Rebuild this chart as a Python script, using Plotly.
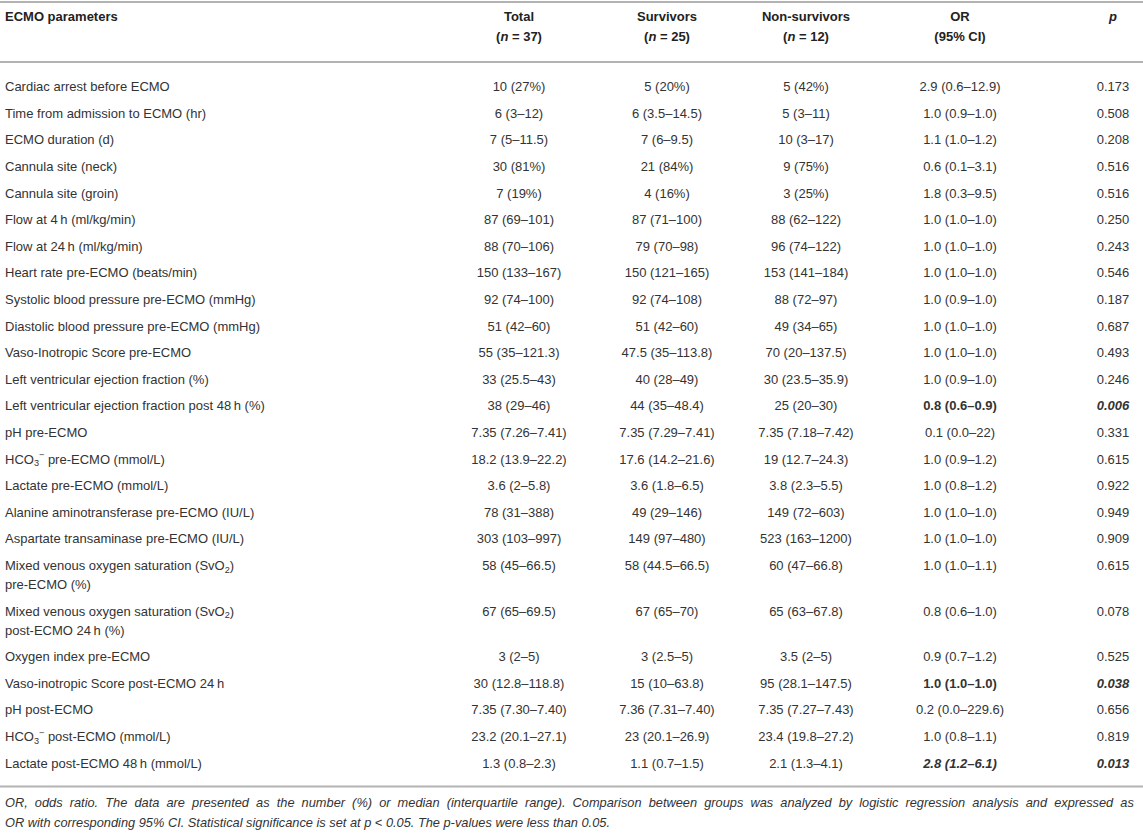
import plotly.graph_objects as go

# ---------------- data ----------------
header_labels = ["ECMO parameters", "Total", "Survivors", "Non-survivors", "OR", "p"]
header_sub = ["", "(<i>n</i> = 37)", "(<i>n</i> = 25)", "(<i>n</i> = 12)", "(95% CI)", ""]

parameters = [
    "Cardiac arrest before ECMO",
    "Time from admission to ECMO (hr)",
    "ECMO duration (d)",
    "Cannula site (neck)",
    "Cannula site (groin)",
    "Flow at 4\u2009h (ml/kg/min)",
    "Flow at 24\u2009h (ml/kg/min)",
    "Heart rate pre-ECMO (beats/min)",
    "Systolic blood pressure pre-ECMO (mmHg)",
    "Diastolic blood pressure pre-ECMO (mmHg)",
    "Vaso-Inotropic Score pre-ECMO",
    "Left ventricular ejection fraction (%)",
    "Left ventricular ejection fraction post 48\u2009h (%)",
    "pH pre-ECMO",
    "HCO<sub>3</sub><sup>\u2212</sup> pre-ECMO (mmol/L)",
    "Lactate pre-ECMO (mmol/L)",
    "Alanine aminotransferase pre-ECMO (IU/L)",
    "Aspartate transaminase pre-ECMO (IU/L)",
    "Mixed venous oxygen saturation (SvO<sub>2</sub>)<br>pre-ECMO (%)",
    "Mixed venous oxygen saturation (SvO<sub>2</sub>)<br>post-ECMO 24\u2009h (%)",
    "Oxygen index pre-ECMO",
    "Vaso-inotropic Score post-ECMO 24\u2009h",
    "pH post-ECMO",
    "HCO<sub>3</sub><sup>\u2212</sup> post-ECMO (mmol/L)",
    "Lactate post-ECMO 48\u2009h (mmol/L)",
]

total = ["10 (27%)", "6 (3\u201312)", "7 (5\u201311.5)", "30 (81%)", "7 (19%)",
         "87 (69\u2013101)", "88 (70\u2013106)", "150 (133\u2013167)", "92 (74\u2013100)",
         "51 (42\u201360)", "55 (35\u2013121.3)", "33 (25.5\u201343)", "38 (29\u201346)",
         "7.35 (7.26\u20137.41)", "18.2 (13.9\u201322.2)", "3.6 (2\u20135.8)",
         "78 (31\u2013388)", "303 (103\u2013997)", "58 (45\u201366.5)", "67 (65\u201369.5)",
         "3 (2\u20135)", "30 (12.8\u2013118.8)", "7.35 (7.30\u20137.40)",
         "23.2 (20.1\u201327.1)", "1.3 (0.8\u20132.3)"]

survivors = ["5 (20%)", "6 (3.5\u201314.5)", "7 (6\u20139.5)", "21 (84%)", "4 (16%)",
             "87 (71\u2013100)", "79 (70\u201398)", "150 (121\u2013165)", "92 (74\u2013108)",
             "51 (42\u201360)", "47.5 (35\u2013113.8)", "40 (28\u201349)", "44 (35\u201348.4)",
             "7.35 (7.29\u20137.41)", "17.6 (14.2\u201321.6)", "3.6 (1.8\u20136.5)",
             "49 (29\u2013146)", "149 (97\u2013480)", "58 (44.5\u201366.5)", "67 (65\u201370)",
             "3 (2.5\u20135)", "15 (10\u201363.8)", "7.36 (7.31\u20137.40)",
             "23 (20.1\u201326.9)", "1.1 (0.7\u20131.5)"]

non_survivors = ["5 (42%)", "5 (3\u201311)", "10 (3\u201317)", "9 (75%)", "3 (25%)",
                 "88 (62\u2013122)", "96 (74\u2013122)", "153 (141\u2013184)", "88 (72\u201397)",
                 "49 (34\u201365)", "70 (20\u2013137.5)", "30 (23.5\u201335.9)", "25 (20\u201330)",
                 "7.35 (7.18\u20137.42)", "19 (12.7\u201324.3)", "3.8 (2.3\u20135.5)",
                 "149 (72\u2013603)", "523 (163\u20131200)", "60 (47\u201366.8)", "65 (63\u201367.8)",
                 "3.5 (2\u20135)", "95 (28.1\u2013147.5)", "7.35 (7.27\u20137.43)",
                 "23.4 (19.8\u201327.2)", "2.1 (1.3\u20134.1)"]

odds_ratio = ["2.9 (0.6\u201312.9)", "1.0 (0.9\u20131.0)", "1.1 (1.0\u20131.2)", "0.6 (0.1\u20133.1)",
              "1.8 (0.3\u20139.5)", "1.0 (1.0\u20131.0)", "1.0 (1.0\u20131.0)", "1.0 (1.0\u20131.0)",
              "1.0 (0.9\u20131.0)", "1.0 (1.0\u20131.0)", "1.0 (1.0\u20131.0)", "1.0 (0.9\u20131.0)",
              "0.8 (0.6\u20130.9)", "0.1 (0.0\u201322)", "1.0 (0.9\u20131.2)", "1.0 (0.8\u20131.2)",
              "1.0 (1.0\u20131.0)", "1.0 (1.0\u20131.0)", "1.0 (1.0\u20131.1)", "0.8 (0.6\u20131.0)",
              "0.9 (0.7\u20131.2)", "1.0 (1.0\u20131.0)", "0.2 (0.0\u2013229.6)", "1.0 (0.8\u20131.1)",
              "2.8 (1.2\u20136.1)"]

p_values = ["0.173", "0.508", "0.208", "0.516", "0.516", "0.250", "0.243", "0.546", "0.187",
            "0.687", "0.493", "0.246", "0.006", "0.331", "0.615", "0.922", "0.949", "0.909",
            "0.615", "0.078", "0.525", "0.038", "0.656", "0.819", "0.013"]

# emphasis: "b" bold, "bi" bold italic, "" plain
or_style = [""] * 12 + ["b"] + [""] * 8 + ["b"] + [""] * 2 + ["bi"]
p_style = [""] * 12 + ["bi"] + [""] * 8 + ["bi"] + [""] * 2 + ["bi"]

footnote = [
    "OR, odds ratio. The data are presented as the number (%) or median (interquartile range). "
    "Comparison between groups was analyzed by logistic regression analysis and expressed as",
    "OR with corresponding 95% CI. Statistical significance is set at p < 0.05. The p-values were less than 0.05.",
]

# ---------------- layout constants ----------------
W, H = 1143, 833
FONT = "Liberation Sans"
FS = 13
COLOR = "#333333"
RULE_COLOR = "#b3b3b3"
COL_X = [5, 519, 667, 806, 960, 1113]
TOP_RULE = 2
HDR_Y1, HDR_LINE = 18, 20
RULE2 = 62
ROW0 = 88
STEP = 26.6
LINE = 19


def styled(t, s):
    if s == "b":
        return "<b>" + t + "</b>"
    if s == "bi":
        return "<b><i>" + t + "</i></b>"
    return t


# row y positions
row_y = []
y = ROW0
for ptxt in parameters:
    row_y.append(y)
    y += STEP + (len(ptxt.split("<br>")) - 1) * LINE
last_y = row_y[-1]
BOTTOM_RULE = last_y + 22
FOOT_Y1 = BOTTOM_RULE + 17
FOOT_LINE = 20

fig = go.Figure()

# header
hdr_texts, hdr_x, hdr_y, hdr_pos = [], [], [], []
for i, lab in enumerate(header_labels):
    if i == 5:
        lab = "<i>" + lab + "</i>"
    hdr_texts.append("<b>" + lab + "</b>")
    hdr_x.append(COL_X[i])
    hdr_y.append(HDR_Y1)
    hdr_pos.append("middle right" if i == 0 else "middle center")
    if header_sub[i]:
        hdr_texts.append("<b>" + header_sub[i] + "</b>")
        hdr_x.append(COL_X[i])
        hdr_y.append(HDR_Y1 + HDR_LINE)
        hdr_pos.append("middle center")
fig.add_trace(go.Scatter(x=hdr_x, y=hdr_y, text=hdr_texts, mode="text",
                         textposition=hdr_pos, hoverinfo="skip",
                         textfont=dict(family=FONT, size=FS, color="#222222")))

# parameter column (split multi-line labels)
px_, py_, pt_ = [], [], []
for ptxt, yy in zip(parameters, row_y):
    for k, part in enumerate(ptxt.split("<br>")):
        px_.append(COL_X[0])
        py_.append(yy + k * LINE)
        pt_.append(part)
fig.add_trace(go.Scatter(x=px_, y=py_, text=pt_, mode="text", textposition="middle right",
                         hoverinfo="skip", textfont=dict(family=FONT, size=FS, color=COLOR)))

columns = [
    total,
    survivors,
    non_survivors,
    [styled(t, s) for t, s in zip(odds_ratio, or_style)],
    [styled(t, s) for t, s in zip(p_values, p_style)],
]
for ci, col in enumerate(columns, start=1):
    fig.add_trace(go.Scatter(x=[COL_X[ci]] * len(col), y=row_y, text=col, mode="text",
                             textposition="middle center", hoverinfo="skip",
                             textfont=dict(family=FONT, size=FS, color=COLOR)))

# footnote (first line widened to mimic justified text)
foot_lines = [footnote[0].replace(" ", " \u00a0"), footnote[1]]
fig.add_trace(go.Scatter(x=[COL_X[0]] * len(foot_lines),
                         y=[FOOT_Y1 + k * FOOT_LINE for k in range(len(foot_lines))],
                         text=["<i>" + t + "</i>" for t in foot_lines], mode="text",
                         textposition="middle right", hoverinfo="skip",
                         textfont=dict(family=FONT, size=12.8, color=COLOR)))

for yy in (TOP_RULE, RULE2, BOTTOM_RULE):
    fig.add_shape(type="line", x0=0, x1=W, y0=yy, y1=yy, xref="x", yref="y",
                  line=dict(color=RULE_COLOR, width=2))

fig.update_layout(
    width=W, height=H, margin=dict(l=0, r=0, t=0, b=0),
    paper_bgcolor="white", plot_bgcolor="white", showlegend=False,
    xaxis=dict(range=[0, W], visible=False, fixedrange=True),
    yaxis=dict(range=[H, 0], visible=False, fixedrange=True),
)

fig.write_html("out.html", config={"displayModeBar": False},
               post_script="document.body.style.margin='0';document.body.style.overflow='hidden';")
